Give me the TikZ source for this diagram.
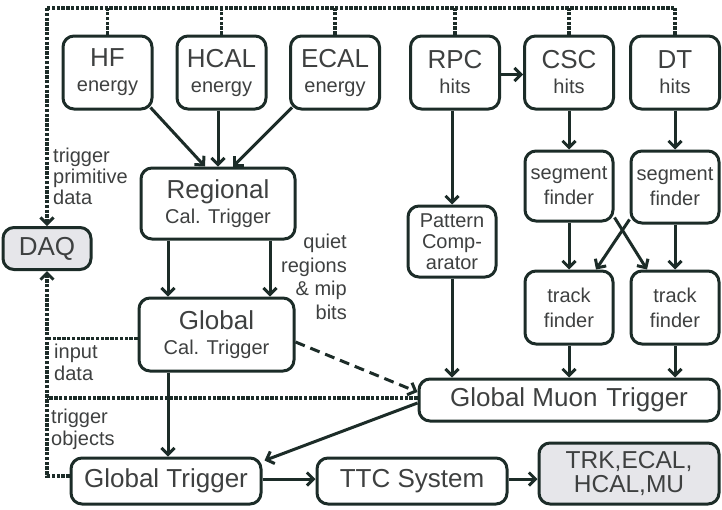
\documentclass[tikz,border=0pt]{standalone}
\usepackage{fontspec}
\setmainfont{Liberation Sans}
\usetikzlibrary{arrows.meta}
\definecolor{ln}{RGB}{28,44,40}
\definecolor{tx}{RGB}{62,64,64}
\definecolor{gr}{RGB}{230,230,234}
\newcommand\BigLbl[1]{{\fontsize{26}{26}\selectfont #1}}
\begin{document}
\begin{tikzpicture}[x=1pt,y=-1pt,
  box/.style={draw=ln, line width=3pt, rounded corners=11pt, text=tx, align=center,
    inner sep=0pt, font=\fontsize{20}{25}\selectfont},
  bigbox/.style={box, font=\fontsize{26}{27}\selectfont},
  tip/.style={-{Straight Barb[length=6.5pt,width=13pt,line width=3pt]}},
  conn/.style={draw=ln, line width=3pt, tip},
  dots/.style={draw=ln, line width=3.2pt, dash pattern=on 3.4pt off 1.4pt},
  note/.style={text=tx, font=\fontsize{20}{21}\selectfont, inner sep=0pt}]
\useasboundingbox (0,0) rectangle (722,509);
% boxes
\node[box, minimum width=89, minimum height=73] (hf) at (107.5,72.5) {\BigLbl{HF}\\energy};
\node[box, minimum width=89, minimum height=73] (hcal) at (221.5,72.5) {\BigLbl{HCAL}\\energy};
\node[box, minimum width=89, minimum height=73] (ecal) at (335,72.5) {\BigLbl{ECAL}\\energy};
\node[box, minimum width=89, minimum height=73] (rpc) at (455,72.5) {\BigLbl{RPC}\\hits};
\node[box, minimum width=89, minimum height=73] (csc) at (569,72.5) {\BigLbl{CSC}\\hits};
\node[box, minimum width=89, minimum height=73] (dt) at (675,72.5) {\BigLbl{DT}\\hits};
\node[box, minimum width=154, minimum height=71] (reg) at (218,203.5) {\BigLbl{Regional}\\Cal. Trigger};
\node[box, minimum width=155, minimum height=73] (gcal) at (216.5,334.5) {\BigLbl{Global}\\Cal. Trigger};
\node[bigbox, fill=gr, minimum width=88, minimum height=42] (daq) at (47,248.5) {DAQ};
\node[box, minimum width=88, minimum height=71, font=\fontsize{20}{21}\selectfont] (pat) at (452,241.5) {Pattern\\Comp-\\arator};
\node[box, minimum width=88, minimum height=70] (seg1) at (569,186) {segment\\finder};
\node[box, minimum width=88, minimum height=72] (seg2) at (675,187) {segment\\finder};
\node[box, minimum width=88, minimum height=73] (trk1) at (569,307.5) {track\\finder};
\node[box, minimum width=88, minimum height=73] (trk2) at (675,307.5) {track\\finder};
\node[bigbox, minimum width=300, minimum height=42] (gmt) at (569,400) {Global Muon\hspace{9pt}Trigger};
\node[bigbox, minimum width=190, minimum height=46] (gt) at (166,481) {Global Trigger};
\node[bigbox, minimum width=190, minimum height=46] (ttc) at (412,481) {TTC System};
\node[bigbox, fill=gr, minimum width=180, minimum height=61, font=\fontsize{24.5}{24}\selectfont] (trk) at (629,473.5) {TRK,ECAL,\\HCAL,MU};
% top dotted bus
\coordinate (tl) at (47,8);
\coordinate (tr) at (675,8);
\draw[dots] (tl) -- (tr);
\foreach \n in {hf,hcal,ecal,rpc,csc,dt} \draw[dots] (\n.north) -- (\n.north |- tl);
\draw[dots,tip] (tl) -- (daq.north);
% left dotted returns
\draw[dots] ([yshift=-4pt]gcal.west) -- ([yshift=-4pt]gcal.west -| daq.south);
\draw[dots] ([yshift=2pt]gmt.west) -- ([yshift=2pt]gmt.west -| daq.south);
\draw[dots,tip] ([yshift=5pt]gt.west) -| (daq.south);
% calorimeter flow
\draw[conn] ([xshift=-3pt,yshift=3pt]hf.south east) -- ([xshift=-13pt]reg.north);
\draw[conn] (hcal.south -| reg.north) -- (reg.north);
\draw[conn] ([xshift=3pt,yshift=3pt]ecal.south west) -- ([xshift=15pt]reg.north);
\draw[conn] ([xshift=-50pt]reg.south) -- ([xshift=-50pt]reg.south |- gcal.north);
\draw[conn] ([xshift=52pt]reg.south) -- ([xshift=52pt]reg.south |- gcal.north);
\draw[conn] ([xshift=-48.5pt]gcal.south) -- ([xshift=-48.5pt]gcal.south |- gt.north);
\draw[conn, dash pattern=on 10pt off 6pt] ([yshift=-7.5pt]gcal.east) -- ([yshift=8pt]gmt.west);
% muon flow
\draw[conn] ([yshift=-2pt]rpc.east) -- ([yshift=-2pt]rpc.east -| csc.west);
\draw[conn] (pat.north |- rpc.south) -- (pat.north);
\draw[conn] (csc.south) -- (seg1.north);
\draw[conn] (dt.south) -- (seg2.north);
\draw[conn] (seg1.south) -- (trk1.north);
\draw[conn] (seg2.south) -- (trk2.north);
\draw[conn] ([yshift=5pt]seg1.south east) -- ([xshift=-28pt]trk2.north);
\draw[conn] ([yshift=5pt]seg2.south west) -- ([xshift=27pt]trk1.north);
\draw[conn] (pat.south) -- (pat.south |- gmt.north);
\draw[conn] (trk1.south) -- (trk1.south |- gmt.north);
\draw[conn] (trk2.south) -- (trk2.south |- gmt.north);
\draw[conn] ([yshift=-3pt]gmt.west) -- ([xshift=2pt,yshift=-4pt]gt.north east);
% output chain
\draw[conn] ([yshift=2pt]gt.east) -- ([yshift=2pt]gt.east -| ttc.west);
\draw[conn] ([yshift=2pt]ttc.east) -- ([yshift=2pt]ttc.east -| trk.west);
% notes
\node[note, anchor=north west, align=left] (n1) at (53,148) {trigger\\primitive\\data};
\node[note, anchor=north east, align=right, font=\fontsize{20}{23.5}\selectfont] (n2) at (347,234) {quiet\\regions\\\& mip\\bits};
\node[note, anchor=north west, align=left, font=\fontsize{20}{22}\selectfont] (n3) at (54,344) {input\\data};
\node[note, anchor=north west, align=left, font=\fontsize{20}{22}\selectfont] (n4) at (51,409) {trigger\\objects};
\end{tikzpicture}
\end{document}
